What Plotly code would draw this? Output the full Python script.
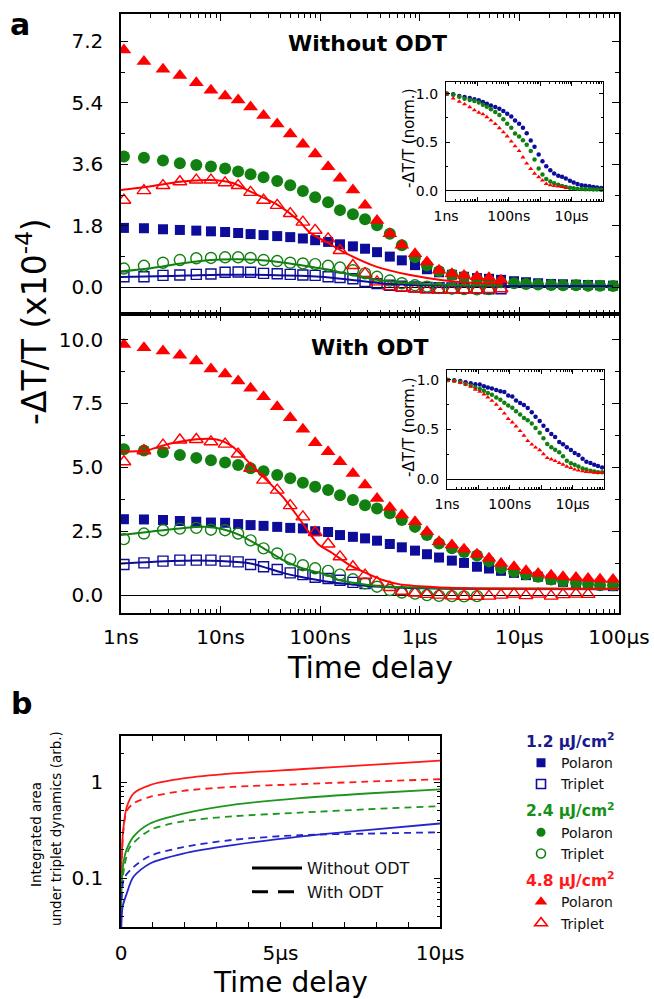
import plotly.graph_objects as go

W, H = 654, 999
FONT = "DejaVu Sans"

# ---------------- data: panel a (time grid in ns) ----------------
t_ns = [1.07, 1.7, 2.64, 3.9, 5.7, 8.0, 11.1, 15, 20, 27, 37, 50, 67, 89, 120,
        158, 213, 282, 372, 500, 660, 895, 1180, 1560, 2100, 2780, 3750, 4950,
        6540, 8830, 11650, 15400, 20800, 27400, 37000, 48900, 64500, 87100]

# Without ODT (x1e-4)
red_pol_top = [6.95, 6.61, 6.38, 6.2, 5.99, 5.77, 5.6, 5.48, 5.28, 5.03, 4.78, 4.49, 4.19, 3.9,
               3.53, 3.19, 2.85, 2.4, 1.96, 1.57, 1.23, 0.98, 0.74, 0.5, 0.4, 0.35, 0.31, 0.28, 0.21]
green_pol_top = [3.83, 3.79, 3.71, 3.63, 3.58, 3.54, 3.48, 3.39, 3.31, 3.22, 3.11, 2.99, 2.82, 2.64,
                 2.49, 2.26, 2.14, 1.99, 1.82, 1.57, 1.23, 0.88, 0.64, 0.47, 0.37, 0.3, 0.24, 0.19,
                 0.15, 0.12, 0.1, 0.08, 0.07, 0.06, 0.06, 0.05, 0.05, 0.04]
blue_pol_top = [1.74, 1.73, 1.7, 1.68, 1.66, 1.64, 1.62, 1.59, 1.56, 1.53, 1.5, 1.47, 1.43, 1.38,
                1.33, 1.26, 1.2, 1.13, 1.03, 0.9, 0.79, 0.65, 0.53, 0.44, 0.37, 0.31, 0.27, 0.25,
                0.22, 0.18, 0.15, 0.12, 0.1, 0.09, 0.08, 0.07, 0.06, 0.05]
red_trip_top = [2.55, 2.83, 2.98, 3.09, 3.14, 3.14, 3.06, 2.98, 2.78, 2.55, 2.4, 2.16, 1.91, 1.67,
                1.42, 1.08, 0.64, 0.4, 0.16, 0.02, -0.02, -0.05, -0.08, -0.09, -0.08, -0.07, -0.07,
                -0.06, -0.04]
green_trip_top = [0.55, 0.63, 0.72, 0.8, 0.85, 0.86, 0.88, 0.88, 0.86, 0.8, 0.77, 0.72, 0.7, 0.68,
                  0.63, 0.58, 0.5, 0.41, 0.31, 0.2, 0.12, 0.06, 0.02, -0.02, -0.04, -0.05, -0.06, -0.05]
blue_trip_top = [0.31, 0.31, 0.35, 0.36, 0.38, 0.39, 0.44, 0.45, 0.44, 0.41, 0.4, 0.38, 0.36, 0.35,
                 0.31, 0.29, 0.25, 0.17, 0.11, 0.06, 0.03, 0.01, 0.0, -0.01, -0.02, -0.03, -0.03,
                 -0.04, -0.04]
red_fit_top_t = [1, 2, 3.9, 7.8, 13, 20, 36, 60, 79, 120, 170, 370, 800, 1700, 3700, 6800]
red_fit_top_v = [2.85, 2.96, 3.09, 3.14, 3.06, 2.8, 2.44, 1.97, 1.6, 1.3, 1.04, 0.6, 0.36, 0.21, 0.13, 0.12]
green_fit_top_t = [1, 2, 4, 8, 15, 30, 60, 80, 120, 170, 370, 800, 2000, 6800]
green_fit_top_v = [0.47, 0.56, 0.7, 0.8, 0.82, 0.78, 0.66, 0.6, 0.52, 0.42, 0.22, 0.12, 0.07, 0.05]
blue_fit_top_t = [1, 3, 10, 30, 100, 200, 400, 800, 2000, 10000, 87000]
blue_fit_top_v = [0.3, 0.33, 0.37, 0.36, 0.31, 0.22, 0.12, 0.07, 0.05, 0.04, 0.04]

# With ODT (x1e-4)
red_pol_bot = [9.81, 9.68, 9.55, 9.39, 9.16, 8.85, 8.65, 8.38, 8.09, 7.76, 7.37, 6.94, 6.49, 5.96,
               5.61, 5.22, 4.76, 4.31, 3.78, 3.43, 3.13, 2.87, 2.48, 2.09, 1.96, 1.79, 1.6, 1.44,
               1.24, 1.11, 0.95, 0.85, 0.78, 0.72, 0.69, 0.65, 0.62, 0.61]
green_pol_bot = [5.71, 5.66, 5.59, 5.48, 5.37, 5.28, 5.19, 5.09, 4.96, 4.85, 4.7, 4.57, 4.4, 4.24,
                 4.11, 3.91, 3.72, 3.52, 3.39, 3.2, 2.94, 2.67, 2.35, 2.02, 1.83, 1.69, 1.55, 1.32,
                 1.05, 0.91, 0.82, 0.72, 0.61, 0.55, 0.48, 0.43, 0.39, 0.39]
blue_pol_bot = [2.97, 2.96, 2.94, 2.9, 2.87, 2.84, 2.83, 2.78, 2.74, 2.71, 2.67, 2.63, 2.61, 2.5,
                2.47, 2.35, 2.28, 2.22, 2.13, 2.0, 1.87, 1.74, 1.6, 1.47, 1.35, 1.26, 1.11, 1.04,
                0.95, 0.87, 0.78, 0.72, 0.61, 0.52, 0.48, 0.43, 0.39, 0.35]
red_trip_bot = [5.22, 5.65, 5.87, 6.07, 6.09, 6.0, 5.91, 5.52, 4.96, 4.5, 4.11, 3.5, 3.06, 2.45,
                2.0, 1.5, 1.11, 0.78, 0.5, 0.3, 0.15, 0.08, 0.03, 0.0, -0.03, -0.05, -0.05, -0.04,
                0.0, 0.04, -0.02, 0.04, -0.04, 0.02, 0.04, 0.03]
green_trip_bot = [2.19, 2.41, 2.54, 2.6, 2.63, 2.56, 2.54, 2.41, 2.14, 1.83, 1.63, 1.4, 1.17, 1.05,
                  0.95, 0.8, 0.62, 0.46, 0.33, 0.2, 0.1, 0.06, 0.0, -0.03, -0.04, -0.05, -0.04]
blue_trip_bot = [1.2, 1.26, 1.33, 1.37, 1.37, 1.37, 1.33, 1.3, 1.2, 1.11, 1.0, 0.87, 0.8, 0.7,
                 0.65, 0.58, 0.5, 0.45]
red_fit_bot_t = [1, 1.8, 2.6, 3.9, 5.8, 9.4, 13.3, 19.7, 29, 42, 63, 95, 134, 198, 294, 425, 633,
                 1350, 2970, 6330, 100000]
red_fit_bot_v = [5.61, 5.66, 5.85, 6.0, 6.1, 6.08, 5.8, 5.15, 4.5, 3.85, 2.94, 2.0, 1.63, 1.17,
                 0.85, 0.59, 0.42, 0.32, 0.27, 0.26, 0.25]
green_fit_bot_t = [1, 1.96, 3.9, 7.3, 10.8, 15.6, 27, 42.4, 67, 120, 146, 215, 316, 465, 860, 2170, 100000]
green_fit_bot_v = [2.35, 2.48, 2.61, 2.67, 2.57, 2.35, 1.83, 1.37, 1.04, 0.78, 0.61, 0.48, 0.39,
                   0.33, 0.3, 0.26, 0.24]
blue_fit_bot_t = [1, 2, 5.8, 10, 20, 42, 63, 120, 200, 300, 600, 2000, 100000]
blue_fit_bot_v = [1.24, 1.3, 1.35, 1.33, 1.24, 0.87, 0.72, 0.52, 0.42, 0.36, 0.3, 0.25, 0.23]

# axis ticks panel a
tick_ns = [1, 10, 100, 1000, 10000, 100000]
tick_lbl = ["1ns", "10ns", "100ns", "1µs", "10µs", "100µs"]
inset_lbl = ["1ns", "", "100ns", "", "10µs", ""]
minor_ns = [m * 10 ** e for e in range(5) for m in range(2, 10)]

# ---------------- data: panel b (time in µs) ----------------
b_red_sol_t = [0.005, 0.02, 0.07, 0.18, 0.39, 0.91, 1.95, 3.5, 5.6, 7.7, 10]
b_red_sol_v = [0.04, 0.15, 0.32, 0.55, 0.76, 0.93, 1.09, 1.23, 1.36, 1.5, 1.67]
b_red_dash_t = [0.02, 0.07, 0.18, 0.39, 0.91, 1.95, 3.5, 5.6, 7.7, 10]
b_red_dash_v = [0.12, 0.3, 0.5, 0.6, 0.7, 0.81, 0.89, 0.95, 1.01, 1.07]
b_grn_sol_t = [0.005, 0.03, 0.1, 0.18, 0.39, 0.91, 1.95, 3.5, 5.6, 7.7, 10]
b_grn_sol_v = [0.04, 0.1, 0.16, 0.2, 0.27, 0.37, 0.47, 0.58, 0.68, 0.76, 0.84]
b_grn_dash_t = [0.02, 0.12, 0.28, 0.91, 1.95, 3.5, 5.6, 7.7, 10]
b_grn_dash_v = [0.08, 0.14, 0.21, 0.316, 0.39, 0.44, 0.48, 0.52, 0.56]
b_blu_sol_t = [0.01, 0.05, 0.18, 0.39, 0.91, 1.95, 3.5, 5.6, 7.7, 10]
b_blu_sol_v = [0.03, 0.05, 0.069, 0.103, 0.142, 0.18, 0.22, 0.27, 0.316, 0.37]
b_blu_dash_t = [0.02, 0.1, 0.39, 0.91, 1.95, 3.5, 5.6, 7.7, 10]
b_blu_dash_v = [0.06, 0.1, 0.13, 0.17, 0.21, 0.25, 0.28, 0.29, 0.30]
b_xticks = list(range(11))
b_xlbl = ["0", "", "", "", "", "5µs", "", "", "", "", "10µs"]
b_ymajor = [0.1, 1]
b_yminor = [0.04, 0.05, 0.06, 0.07, 0.08, 0.09, 0.2, 0.3, 0.4, 0.5, 0.6, 0.7, 0.8, 0.9, 2, 3]

fluence = ["1.2 µJ/cm<sup>2</sup>", "2.4 µJ/cm<sup>2</sup>", "4.8 µJ/cm<sup>2</sup>"]

BLUE, GREEN, RED = "#0d0d99", "#118011", "#ff0000"
BLUE_B, GREEN_B, RED_B = "#2626cc", "#1e961e", "#ff1a1a"


def px(x):
    return x / W


def py(y):
    return 1 - y / H


fig = go.Figure()


def markers(x, y, ax, sym, size, color, open_=False, lw=1.4):
    m = dict(symbol=sym + ("-open" if open_ else ""), size=size, color=color,
             line=dict(width=lw if open_ else 0, color=color))
    fig.add_trace(go.Scatter(x=x, y=y, mode="markers", marker=m, xaxis="x" + ax,
                             yaxis="y" + ax, showlegend=False, hoverinfo="skip"))


def fitline(x, y, ax, color, w=2.0, dash="solid"):
    fig.add_trace(go.Scatter(x=x, y=y, mode="lines", line=dict(color=color, width=w, dash=dash,
                                                               shape="spline", smoothing=0.8),
                             xaxis="x" + ax, yaxis="y" + ax, showlegend=False, hoverinfo="skip"))


# ---- top main (axis 1) ----
markers(t_ns[:len(blue_pol_top)], blue_pol_top, "", "square", 10, BLUE)
markers(t_ns[:len(green_pol_top)], green_pol_top, "", "circle", 12, GREEN)
markers(t_ns[:len(red_pol_top)], red_pol_top, "", "triangle-up", 13, RED)
markers(t_ns[:len(blue_trip_top)], blue_trip_top, "", "square", 10, BLUE, True)
markers(t_ns[:len(green_trip_top)], green_trip_top, "", "circle", 11, GREEN, True)
markers(t_ns[:len(red_trip_top)], red_trip_top, "", "triangle-up", 12, RED, True)
fitline(blue_fit_top_t, blue_fit_top_v, "", BLUE)
fitline(green_fit_top_t, green_fit_top_v, "", GREEN)
fitline(red_fit_top_t, red_fit_top_v, "", RED)

# ---- bottom main (axis 2) ----
markers(t_ns[:len(blue_pol_bot)], blue_pol_bot, "2", "square", 10, BLUE)
markers(t_ns[:len(green_pol_bot)], green_pol_bot, "2", "circle", 12, GREEN)
markers(t_ns[:len(red_pol_bot)], red_pol_bot, "2", "triangle-up", 13, RED)
markers(t_ns[:len(blue_trip_bot)], blue_trip_bot, "2", "square", 10, BLUE, True)
markers(t_ns[:len(green_trip_bot)], green_trip_bot, "2", "circle", 11, GREEN, True)
markers(t_ns[:len(red_trip_bot)], red_trip_bot, "2", "triangle-up", 12, RED, True)
fitline(blue_fit_bot_t, blue_fit_bot_v, "2", BLUE)
fitline(green_fit_bot_t, green_fit_bot_v, "2", GREEN)
fitline(red_fit_bot_t, red_fit_bot_v, "2", RED)

# ---- insets: polaron data normalised to the first point ----
for series, col, sym in [(blue_pol_top, BLUE, "circle"), (green_pol_top, GREEN, "circle"),
                         (red_pol_top, RED, "triangle-up")]:
    markers(t_ns[:len(series)], [v / series[0] for v in series], "3", sym, 4.5, col)
for series, col, sym in [(blue_pol_bot, BLUE, "circle"), (green_pol_bot, GREEN, "circle"),
                         (red_pol_bot, RED, "triangle-up")]:
    markers(t_ns[:len(series)], [v / series[0] for v in series], "4", sym, 4.5, col)

# ---- panel b (axis 5) ----
fitline(b_red_sol_t, b_red_sol_v, "5", RED_B, 1.8)
fitline(b_red_dash_t, b_red_dash_v, "5", RED_B, 1.8, "7px,5px")
fitline(b_grn_sol_t, b_grn_sol_v, "5", GREEN_B, 1.8)
fitline(b_grn_dash_t, b_grn_dash_v, "5", GREEN_B, 1.8, "7px,5px")
fitline(b_blu_sol_t, b_blu_sol_v, "5", BLUE_B, 1.8)
fitline(b_blu_dash_t, b_blu_dash_v, "5", BLUE_B, 1.8, "7px,5px")

# ---- legend 1: fluence groups ----
for i, (col, sym, tcol) in enumerate([(BLUE, "square", "#1a1a8c"), (GREEN, "circle", "#169016"),
                                      (RED, "triangle-up", "#ff1a1a")]):
    for j, name in enumerate(["Polaron", "Triplet"]):
        fig.add_trace(go.Scatter(
            x=[None], y=[None], mode="markers", name=name, legend="legend",
            legendgroup="g%d" % i,
            legendgrouptitle=dict(text=fluence[i], font=dict(family=FONT, size=15.5, color=tcol,
                                                             weight="bold")),
            marker=dict(symbol=sym + ("-open" if j else ""), size=9 if sym != "triangle-up" else 11,
                        color=col, line=dict(color=col, width=1.6 if j else 0))))

# ---- legend 2: line styles ----
for name, dash in [("Without ODT", "solid"), ("With ODT", "16px,10px")]:
    fig.add_trace(go.Scatter(x=[None], y=[None], mode="lines", name=name, legend="legend2",
                             xaxis="x5", yaxis="y5",
                             line=dict(color="black", width=3, dash=dash)))

TF = dict(family=FONT, size=20, color="black")
IF = dict(family=FONT, size=14, color="black")


def axis(**kw):
    d = dict(showline=True, linecolor="black", linewidth=1.5, mirror="ticks", ticks="inside",
             tickcolor="black", tickwidth=1.3, showgrid=False, zeroline=False, tickfont=TF,
             fixedrange=True, automargin=False)
    d.update(kw)
    return d


xmain = dict(type="log", range=[0, 5], tickmode="array", tickvals=tick_ns, ticktext=tick_lbl,
             ticklen=7, minor=dict(tickvals=minor_ns, ticklen=4, ticks="inside",
                                   tickcolor="black", tickwidth=1))

fig.update_layout(
    width=W, height=H, margin=dict(l=0, r=0, t=0, b=0, autoexpand=False),
    paper_bgcolor="white", plot_bgcolor="white",
    font=dict(family=FONT, color="black"),
    xaxis=axis(domain=[px(121), px(619)], anchor="y", showticklabels=False, **xmain),
    yaxis=axis(domain=[py(314), py(14)], anchor="x", range=[-0.78, 8.0], tick0=0, dtick=1.8,
               tickformat=".1f", ticklen=7, ticklabelstandoff=12, zeroline=True,
               zerolinecolor="black", zerolinewidth=1.2,
               minor=dict(dtick=0.9, tick0=0, ticklen=4, ticks="inside", tickcolor="black")),
    xaxis2=axis(domain=[px(121), px(619)], anchor="y2", ticklabelstandoff=5, **xmain),
    yaxis2=axis(domain=[py(613), py(314)], anchor="x2", range=[-0.70, 11.0], tick0=0, dtick=2.5,
                tickformat=".1f", ticklen=7, ticklabelstandoff=12, zeroline=True,
                zerolinecolor="black", zerolinewidth=1.2,
                minor=dict(dtick=1.25, tick0=0, ticklen=4, ticks="inside", tickcolor="black")),
    xaxis3=axis(domain=[px(446), px(603)], anchor="y3", type="log", range=[0, 5],
                tickmode="array", tickvals=tick_ns, ticktext=inset_lbl, ticklen=4, linewidth=1.2,
                tickfont=IF, ticklabelstandoff=2,
                minor=dict(tickvals=minor_ns, ticklen=2, ticks="inside", tickcolor="black",
                           tickwidth=0.8)),
    yaxis3=axis(domain=[py(201), py(82)], anchor="x3", range=[-0.105, 1.12], tick0=0, dtick=0.5,
                tickformat=".1f", ticklen=4, linewidth=1.2, ticklabelstandoff=4,
                tickfont=IF, zeroline=True, zerolinecolor="black", zerolinewidth=1,
                minor=dict(dtick=0.25, tick0=0, ticklen=2, ticks="inside", tickcolor="black")),
    xaxis4=axis(domain=[px(447), px(604)], anchor="y4", type="log", range=[0, 5],
                tickmode="array", tickvals=tick_ns, ticktext=inset_lbl, ticklen=4, linewidth=1.2,
                tickfont=IF, ticklabelstandoff=2,
                minor=dict(tickvals=minor_ns, ticklen=2, ticks="inside", tickcolor="black",
                           tickwidth=0.8)),
    yaxis4=axis(domain=[py(489), py(370)], anchor="x4", range=[-0.1, 1.1], tick0=0, dtick=0.5,
                tickformat=".1f", ticklen=4, linewidth=1.2, ticklabelstandoff=4,
                tickfont=IF, zeroline=True, zerolinecolor="black", zerolinewidth=1,
                minor=dict(dtick=0.25, tick0=0, ticklen=2, ticks="inside", tickcolor="black")),
    xaxis5=axis(domain=[px(121), px(440)], anchor="y5", range=[0, 10], tickmode="array",
                tickvals=b_xticks, ticktext=b_xlbl, ticklen=5, ticklabelstandoff=7),
    yaxis5=axis(domain=[py(927), py(736)], anchor="x5", type="log", range=[-1.51, 0.48],
                tickmode="array", tickvals=b_ymajor, ticktext=["0.1", "1"], ticklen=6,
                ticklabelstandoff=12,
                minor=dict(tickvals=b_yminor, ticklen=3, ticks="inside", tickcolor="black")),
    legend=dict(x=px(521), y=py(724), xanchor="left", yanchor="top", bgcolor="rgba(0,0,0,0)",
                font=dict(family=FONT, size=14, color="#111"), traceorder="grouped",
                tracegroupgap=4, itemclick=False, itemdoubleclick=False),
    legend2=dict(x=px(247), y=py(851), xanchor="left", yanchor="top", bgcolor="rgba(0,0,0,0)",
                 font=dict(family=FONT, size=16, color="#111"), itemwidth=50,
                 itemclick=False, itemdoubleclick=False),
)

ann = [
    dict(text="<b>a</b>", x=px(20), y=py(24), size=30),
    dict(text="<b>b</b>", x=px(22), y=py(703), size=30),
    dict(text="<b>Without ODT</b>", x=px(367), y=py(43), size=22),
    dict(text="<b>With ODT</b>", x=px(370), y=py(348), size=22),
    dict(text="-ΔT/T (x10<sup>-4</sup>)", x=px(32), y=py(322), size=33, angle=-90),
    dict(text="Time delay", x=px(370), y=py(667), size=30),
    dict(text="-ΔT/T (norm.)", x=px(409), y=py(138), size=15, angle=-90),
    dict(text="-ΔT/T (norm.)", x=px(409), y=py(427), size=15, angle=-90),
    dict(text="Integrated area", x=px(36), y=py(835), size=13.5, angle=-90),
    dict(text="under triplet dynamics (arb.)", x=px(56), y=py(829), size=13.5, angle=-90),
    dict(text="Time delay", x=px(290), y=py(982), size=28),
]
for a in ann:
    fig.add_annotation(text=a["text"], x=a["x"], y=a["y"], xref="paper", yref="paper",
                       showarrow=False, xanchor="center", yanchor="middle",
                       textangle=a.get("angle", 0),
                       font=dict(family=FONT, size=a["size"], color="black"))

fig.write_html("out.html", config={"displayModeBar": False},
               post_script="document.body.style.margin='0';document.body.style.padding='0';")
